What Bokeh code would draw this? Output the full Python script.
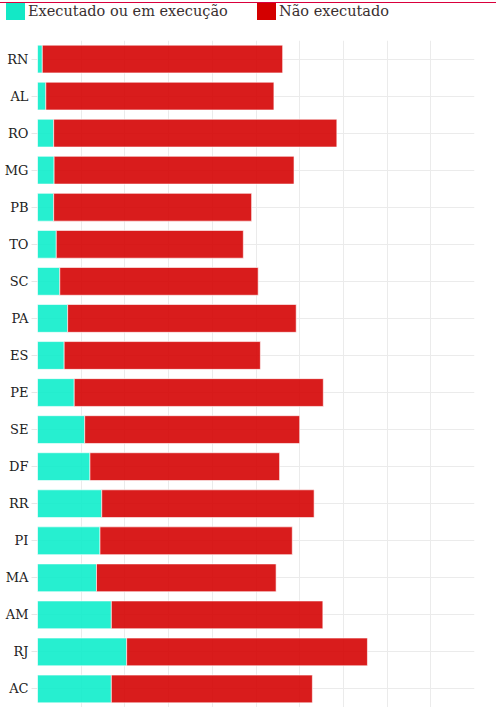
from bokeh.plotting import figure
from bokeh.layouts import column
from bokeh.models import ColumnDataSource, FactorRange, FixedTicker, Div
from bokeh.embed import file_html
from bokeh.resources import INLINE

ufs = ["RN", "AL", "RO", "MG", "PB", "TO", "SC", "PA", "ES", "PE", "SE", "DF", "RR", "PI", "MA", "AM", "RJ", "AC"]
executado = [1.1, 1.9, 3.7, 3.8, 3.7, 4.3, 5.1, 6.9, 6.1, 8.4, 10.8, 12.0, 14.7, 14.3, 13.5, 16.9, 20.4, 16.9]
nao_executado = [55.0, 52.2, 64.8, 54.9, 45.3, 42.8, 45.4, 52.3, 44.9, 57.0, 49.2, 43.4, 48.6, 44.0, 41.1, 48.4, 55.1, 46.0]
x_ticks = [0, 10, 20, 30, 40, 50, 60, 70, 80, 90, 100]
labels = ["Executado ou em execução", "Não executado"]
colors = ["#0eedcb", "#d50303"]
swatch_colors = ["#13e8c6", "#d40000"]

source = ColumnDataSource(dict(uf=ufs, exec=executado, nao=nao_executado))

# ---- header: thin rule + legend ----
item_lefts = [6, 257]
parts = ['<div style="position:absolute;left:0;top:2px;width:496px;height:1px;background:#d9003c"></div>']
for lab, col, left in zip(labels, swatch_colors, item_lefts):
    parts.append(f'<div style="position:absolute;left:{left}px;top:3px;width:19px;height:17px;background:{col}"></div>')
    parts.append(f'<div style="position:absolute;left:{left + 22}px;top:1px;line-height:20px;'
                 f'font-family:\'DejaVu Serif\';font-size:14.5px;color:#3a3030;white-space:nowrap">{lab}</div>')
header = Div(width=496, height=40, margin=0,
             text='<div style="position:relative;width:496px;height:40px">' + "".join(parts) + '</div>')

# ---- main chart ----
p = figure(width=496, height=667, output_backend="svg", toolbar_location=None,
           y_range=FactorRange(factors=list(reversed(ufs))), x_range=(0, 100),
           min_border_left=37, min_border_right=22, min_border_top=0, min_border_bottom=0)
p.outline_line_color = None
p.margin = 0

p.hbar_stack(["exec", "nao"], y="uf", height=0.75, color=colors, source=source,
             fill_alpha=0.9, line_color="white", line_alpha=0.6, line_width=1)

p.xaxis.visible = False
p.xaxis.ticker = FixedTicker(ticks=x_ticks)
p.xgrid.grid_line_color = "#ebebeb"
p.ygrid.grid_line_color = "#ebebeb"

p.yaxis.axis_line_color = None
p.yaxis.major_tick_line_color = "#e6e6e6"
p.yaxis.major_tick_out = 6
p.yaxis.major_tick_in = 0
p.yaxis.major_label_standoff = 3
p.yaxis.major_label_text_font = "DejaVu Serif"
p.yaxis.major_label_text_font_size = "13px"
p.yaxis.major_label_text_color = "#222222"

layout = column(header, p, spacing=0)
open("out.html", "w").write(file_html(layout, INLINE))
